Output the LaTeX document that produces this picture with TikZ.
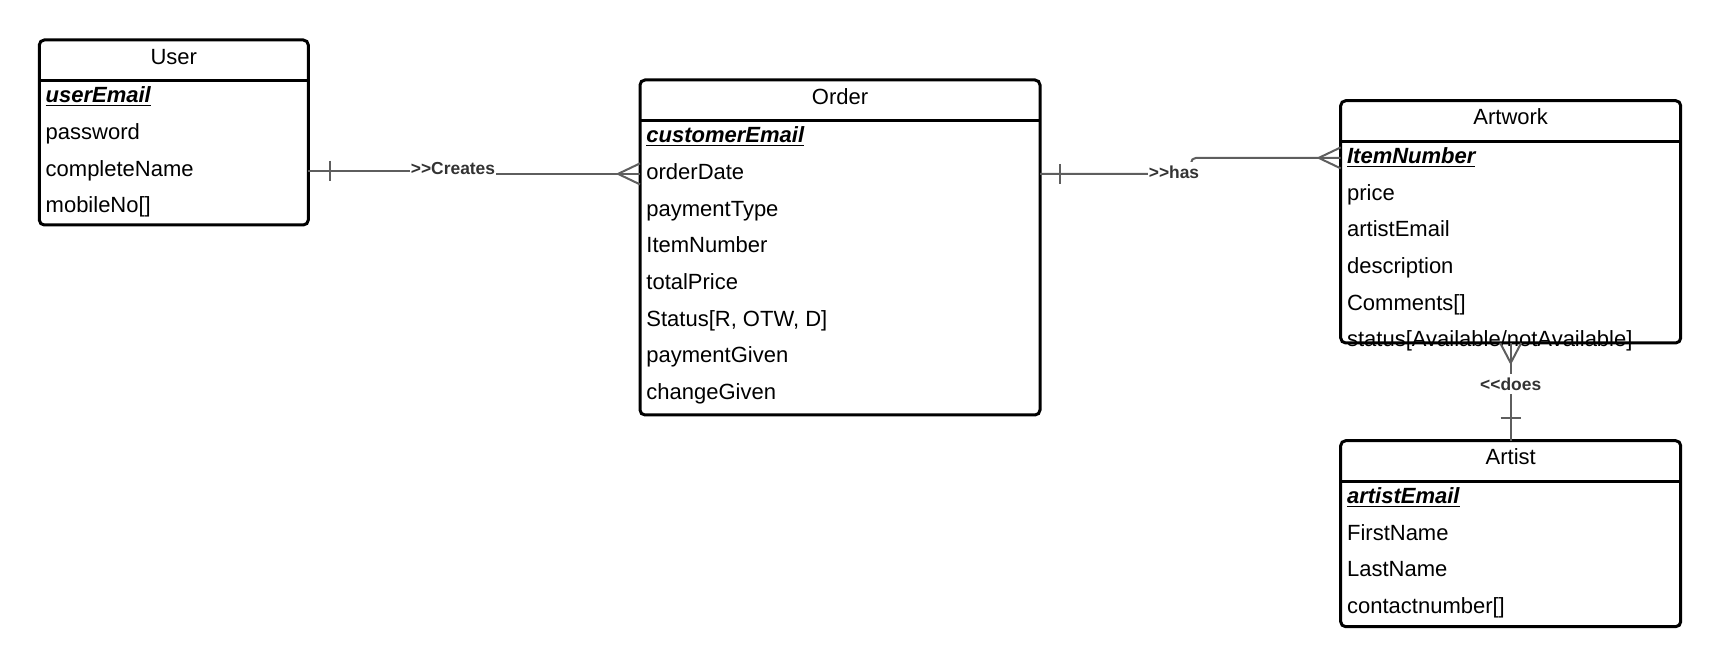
\documentclass[tikz,border=0pt]{standalone}
\usepackage{fontspec}
\setmainfont{Liberation Sans}
\definecolor{relgray}{HTML}{5E5E5E}
\definecolor{lblgray}{HTML}{333333}
\tikzset{
  entity/.style={draw, line width=1.5pt, rounded corners=2.5pt, anchor=north west, inner sep=0pt, outer sep=0pt},
  divider/.style={line width=1.5pt},
  head/.style={anchor=base, inner sep=0pt, font=\fontsize{11}{13}\selectfont},
  attr/.style={anchor=base west, inner sep=0pt, text height=8pt, text depth=2.5pt, font=\fontsize{11}{13}\selectfont},
  keyattr/.style={attr, font=\fontsize{11}{13}\selectfont\bfseries\itshape},
  rel/.style={draw=relgray, line width=1pt},
  rellabel/.style={fill=white, text=lblgray, inner xsep=0.5pt, inner ysep=2pt, font=\fontsize{8.7}{10}\selectfont\bfseries}
}
\begin{document}
\begin{tikzpicture}[x=0.5pt,y=-0.5pt]
\useasboundingbox (0,0) rectangle (1720,667);

% entities
\node[entity, minimum width=134.5pt, minimum height=92.5pt] (user) at (39.3,40) {};
\node[entity, minimum width=200pt, minimum height=167.5pt] (order) at (640,80) {};
\node[entity, minimum width=170pt, minimum height=121.15pt] (artwork) at (1340.7,100.7) {};
\node[entity, minimum width=170pt, minimum height=93pt] (artist) at (1340.7,440.7) {};

% headers and keys
\foreach \ent/\hd/\key in {user/User/userEmail, order/Order/customerEmail, artwork/Artwork/ItemNumber, artist/Artist/artistEmail} {
  \node[head] (\ent head) at ([yshift=-12.15pt]\ent.north) {\hd};
  \draw[divider] ([yshift=-20.35pt]\ent.north west) -- ([yshift=-20.35pt]\ent.north east);
  \node[keyattr] (\ent0) at ([xshift=3pt,yshift=-31.35pt]\ent.north west) {\underline{\key}};
}

% attributes
\foreach \fld [count=\i] in {password, completeName, mobileNo[]}
  \node[attr] (user\i) at ([xshift=3pt,yshift={-31.35pt-\i*18.35pt}]user.north west) {\fld};
\foreach \fld [count=\i] in {orderDate, paymentType, ItemNumber, totalPrice, {Status[R, OTW, D]}, paymentGiven, changeGiven}
  \node[attr] (order\i) at ([xshift=3pt,yshift={-31.35pt-\i*18.35pt}]order.north west) {\fld};
\foreach \fld [count=\i] in {price, artistEmail, description, Comments[], status[Available/notAvailable]}
  \node[attr] (artwork\i) at ([xshift=3pt,yshift={-31.35pt-\i*18.35pt}]artwork.north west) {\fld};
\foreach \fld [count=\i] in {FirstName, LastName, contactnumber[]}
  \node[attr] (artist\i) at ([xshift=3pt,yshift={-31.35pt-\i*18.35pt}]artist.north west) {\fld};

% user creates order
\coordinate (uc) at (user.east |- user2);
\coordinate (oc) at (order.west |- order1);
\coordinate (createsat) at (453,169);
\draw[rel] (uc) -| (createsat) |- (oc);
\draw[rel] ([xshift=10.85pt,yshift=5pt]uc) -- ([xshift=10.85pt,yshift=-5pt]uc);
\draw[rel] ([xshift=-11pt]oc) -- ([yshift=5.25pt]oc) ([xshift=-11pt]oc) -- ([yshift=-5.25pt]oc);
\node[rellabel] (creates) at (createsat) {>\kern0pt>Creates};

% order has artwork
\coordinate (oh) at (order.east |- order1);
\coordinate (ah) at (artwork.west |- artwork0);
\coordinate (hasbend) at (1191,0);
\draw[rel, rounded corners=2.5pt] (oh) -| (hasbend |- ah) -- (ah);
\draw[rel] ([xshift=10pt,yshift=5pt]oh) -- ([xshift=10pt,yshift=-5pt]oh);
\draw[rel] ([xshift=-11pt]ah) -- ([yshift=5.25pt]ah) ([xshift=-11pt]ah) -- ([yshift=-5.25pt]ah);
\node[rellabel] (has) at (1174,172) {>\kern0pt>has};

% artist does artwork
\draw[rel] (artwork.south) -- (artist.north);
\draw[rel] ([yshift=-10pt]artwork.south) -- ([xshift=-5.25pt]artwork.south) ([yshift=-10pt]artwork.south) -- ([xshift=5.25pt]artwork.south);
\draw[rel] ([xshift=-5pt,yshift=11.35pt]artist.north) -- ([xshift=5pt,yshift=11.35pt]artist.north);
\node[rellabel] (does) at (artwork.south |- 0,384) {<\kern0pt<does};

\end{tikzpicture}
\end{document}
